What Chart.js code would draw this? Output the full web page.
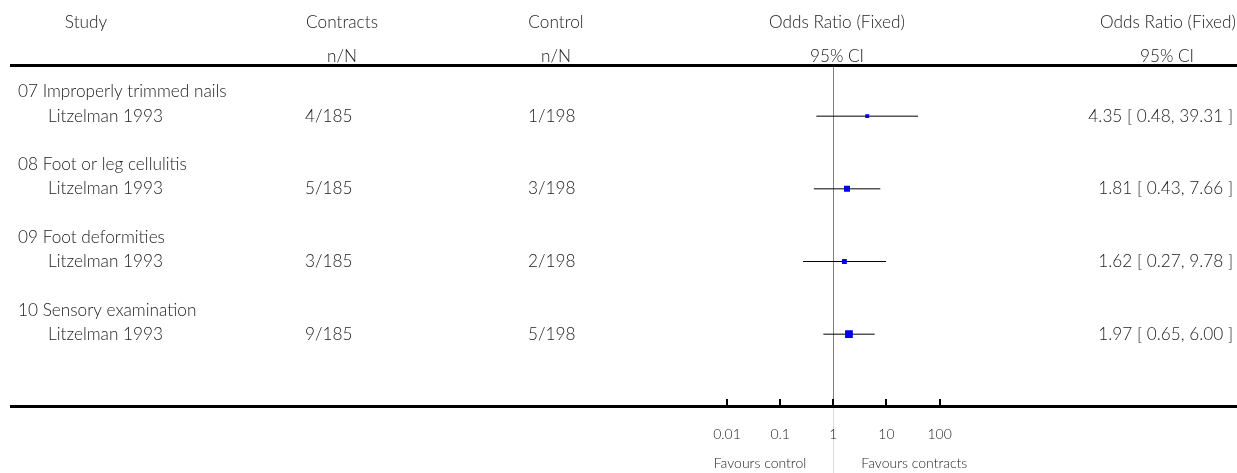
<!DOCTYPE html>
<html><head><meta charset="utf-8">
<script src="https://cdn.jsdelivr.net/npm/chart.js@4.4.1/dist/chart.umd.min.js"></script>
<style>html,body{margin:0;padding:0;background:#fff;}#wrap{width:1237px;height:473px;}</style>
</head><body><div id="wrap"><canvas id="c" width="1237" height="473"></canvas></div>
<script>
// ---- data ----
const groupLabels = ['07 Improperly trimmed nails','08 Foot or leg cellulitis','09 Foot deformities','10 Sensory examination'];
const studyLabels = ['Litzelman 1993','Litzelman 1993','Litzelman 1993','Litzelman 1993'];
const contractsNN = ['4/185','5/185','3/185','9/185'];
const controlNN = ['1/198','3/198','2/198','5/198'];
const oddsRatio = [4.35,1.81,1.62,1.97];
const ciLow = [0.48,0.43,0.27,0.65];
const ciHigh = [39.31,7.66,9.78,6.00];
const ciText = ['4.35 [ 0.48, 39.31 ]','1.81 [ 0.43, 7.66 ]','1.62 [ 0.27, 9.78 ]','1.97 [ 0.65, 6.00 ]'];
const tickValues = [0.01,0.1,1,10,100];
const tickLabels = ['0.01','0.1','1','10','100'];
const favourLeft = 'Favours control';
const favourRight = 'Favours contracts';

// ---- layout constants ----
const W = 1237, H = 473;
const LEFT = 10, X_ONE = 837, PX_DEC = 53.4;
const ROW0_Y = 88.5, ROW_H = 24.8;
const FAMILY = '"Lato","Open Sans",sans-serif';
const WEIGHT = '300';
const TXT = '#222';

// calibrate font sizes so text widths match the reference
const mctx = document.createElement('canvas').getContext('2d');
function sizeFor(text, target){
  mctx.font = WEIGHT + ' 100px ' + FAMILY;
  return 100 * target / mctx.measureText(text).width;
}
const MAIN_PX = sizeFor('Odds Ratio (Fixed)', 136);
const SMALL_PX = sizeFor('Favours contracts', 106);
const MAIN_FONT = WEIGHT + ' ' + MAIN_PX.toFixed(2) + 'px ' + FAMILY;
const SMALL_FONT = WEIGHT + ' ' + SMALL_PX.toFixed(2) + 'px ' + FAMILY;

const studyRow = i => 3*i + 1;
const groupRow = i => 3*i;

const datasets = [];
oddsRatio.forEach((v,i)=>{
  datasets.push({type:'line', data:[{x:ciLow[i],y:studyRow(i)},{x:ciHigh[i],y:studyRow(i)}],
    borderColor:'#000', borderWidth:1, pointRadius:0, fill:false, order:2});
});
// box side proportional to inverse standard error
const boxRadius = oddsRatio.map((v,i)=>{
  const se = (Math.log(ciHigh[i]) - Math.log(ciLow[i]))/(2*1.96);
  const side = 4.4/se;
  return side/Math.SQRT2;
});
datasets.push({type:'scatter', data: oddsRatio.map((v,i)=>({x:v,y:studyRow(i)})),
  pointStyle:'rect', pointRadius:boxRadius, pointHoverRadius:boxRadius,
  backgroundColor:'#0000ee', borderColor:'#0000ee', borderWidth:0, order:1});

const tablePlugin = {
  id:'table',
  beforeDatasetsDraw(chart){
    const ctx = chart.ctx, xs = chart.scales.x;
    const x1 = Math.round(xs.getPixelForValue(1)) + 0.5;
    ctx.save();
    ctx.strokeStyle = '#808080'; ctx.lineWidth = 1;
    ctx.beginPath(); ctx.moveTo(x1, 67); ctx.lineTo(x1, 405); ctx.stroke();
    ctx.strokeStyle = '#dcdcdc';
    ctx.beginPath(); ctx.moveTo(x1, 408); ctx.lineTo(x1, H); ctx.stroke();
    ctx.restore();
  },
  afterDraw(chart){
    const ctx = chart.ctx, xs = chart.scales.x, ys = chart.scales.y;
    ctx.save();
    // rules
    ctx.fillStyle = '#000';
    ctx.fillRect(LEFT, 64, W-LEFT, 3);
    ctx.fillRect(LEFT, 405, W-LEFT, 3);
    // axis ticks
    tickValues.forEach(v=>{
      const x = Math.round(xs.getPixelForValue(v));
      ctx.fillRect(x-1, 399, 2, 7);
    });
    ctx.fillStyle = TXT;
    ctx.textBaseline = 'middle';
    ctx.font = MAIN_FONT;
    // headers
    ctx.textAlign = 'center';
    ctx.fillText('Study', 86, 22);
    ctx.fillText('Contracts', 342, 22);
    ctx.fillText('n/N', 342, 56);
    ctx.fillText('Control', 556, 22);
    ctx.fillText('n/N', 556, 56);
    ctx.fillText('Odds Ratio (Fixed)', X_ONE, 22);
    ctx.fillText('95% CI', X_ONE, 56);
    ctx.textAlign = 'right';
    ctx.fillText('Odds Ratio (Fixed)', 1236, 22);
    ctx.textAlign = 'center';
    ctx.fillText('95% CI', 1167, 56);
    // rows
    groupLabels.forEach((g,i)=>{
      const yg = ys.getPixelForValue(groupRow(i));
      const y = ys.getPixelForValue(studyRow(i));
      ctx.textAlign = 'left';
      ctx.fillText(g, 18, yg);
      ctx.fillText(studyLabels[i], 48, y);
      ctx.fillText(contractsNN[i], 305, y);
      ctx.fillText(controlNN[i], 528, y);
      ctx.textAlign = 'right';
      ctx.fillText(ciText[i], 1233, y);
    });
    // tick labels
    ctx.font = SMALL_FONT;
    ctx.textAlign = 'center';
    tickValues.forEach((v,i)=>{
      ctx.fillText(tickLabels[i], xs.getPixelForValue(v), 434);
    });
    const x1 = xs.getPixelForValue(1);
    ctx.textAlign = 'right';
    ctx.fillText(favourLeft, x1 - 27, 463);
    ctx.textAlign = 'left';
    ctx.fillText(favourRight, x1 + 28, 463);
    ctx.restore();
  }
};

new Chart(document.getElementById('c'), {
  data:{datasets},
  options:{
    responsive:false, animation:false, devicePixelRatio:1,
    layout:{padding:{left:LEFT,right:0,top:0,bottom:0}},
    plugins:{legend:{display:false}, tooltip:{enabled:false}},
    scales:{
      x:{type:'logarithmic', display:false, bounds:'data',
         min: Math.pow(10, -(X_ONE-LEFT)/PX_DEC), max: Math.pow(10, (W-X_ONE)/PX_DEC)},
      y:{type:'linear', display:false, reverse:true, bounds:'data',
         min: -ROW0_Y/ROW_H, max: (H-ROW0_Y)/ROW_H}
    }
  },
  plugins:[tablePlugin]
});
</script></body></html>
